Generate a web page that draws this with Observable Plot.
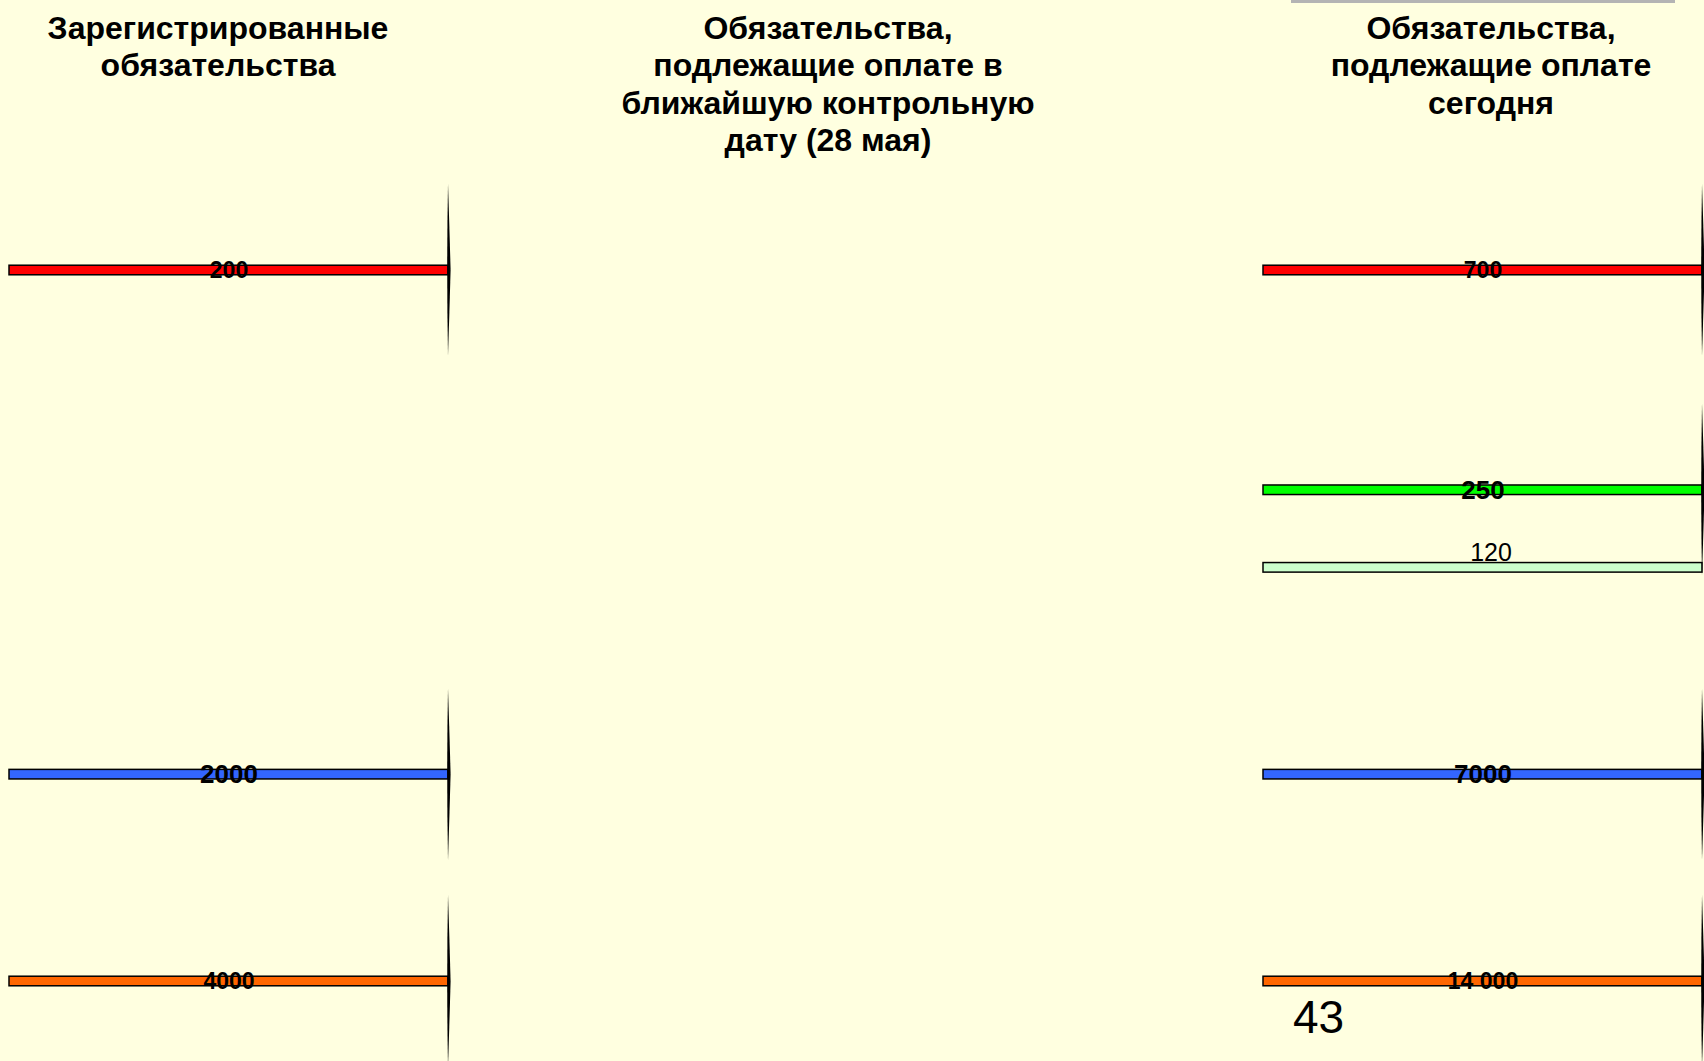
<!DOCTYPE html>
<html>
<head>
<meta charset="utf-8">
<script src="https://cdn.jsdelivr.net/npm/d3@7"></script>
<script src="https://cdn.jsdelivr.net/npm/@observablehq/plot@0.6"></script>
<style>
  html, body { margin: 0; padding: 0; background: #ffffe0; }
  #wrap { position: relative; width: 1704px; height: 1061px; overflow: hidden;
          font-family: "Liberation Sans", Arial, sans-serif; }
  #wrap svg { position: absolute; left: 0; top: 0; }
  #rule { position: absolute; left: 1291px; top: 0; width: 384px; height: 3px; background: #b4b4b4; }
  #page { position: absolute; left: 1293px; top: 994px; font-size: 46px; line-height: 1; color: #000; }
</style>
</head>
<body>
<div id="wrap"><div id="rule"></div><div id="page">43</div></div>
<script>
// ---------- data ----------
const columnKeys = ["registered", "nearest", "today"];
const columnTitles = [
  "Зарегистрированные\nобязательства",
  "Обязательства,\nподлежащие оплате в\nближайшую контрольную\nдату (28 мая)",
  "Обязательства,\nподлежащие оплате\nсегодня"
];
const rowKeys = ["красный", "зелёный", "светло-зелёный", "синий", "оранжевый"];
const rowColors = ["#ff0000", "#00ff00", "#ccffcc", "#3366ff", "#ff6600"];
const registeredValues = [200, null, null, 2000, 4000];
const nearestValues = [null, null, null, null, null];
const todayValues = [700, 250, 120, 7000, 14000];

// ---------- layout / style (not data) ----------
const rowSlot = {"красный": 0, "зелёный": 17, "светло-зелёный": 23, "синий": 39, "оранжевый": 55};
const rowFont = {"красный": 23, "зелёный": 26, "светло-зелёный": 25, "синий": 26, "оранжевый": 23};
const plainRow = "светло-зелёный";     // label above bar, regular weight, no brace
const barHalf = 0.37;                   // half bar thickness in slot units
const braceHalf = 6.65;                 // half brace height in slot units
const titleDx = [-11, -28, 8];

const valuesByColumn = [registeredValues, nearestValues, todayValues];
const bars = [];
columnKeys.forEach((c, ci) => rowKeys.forEach((r, ri) => {
  const v = valuesByColumn[ci][ri];
  if (v != null) bars.push({column: c, row: r, value: v});
}));

const fmt = v => v >= 10000 ? d3.format(",")(v).replace(/,/g, " ") : String(v);

function braces(data) {
  return (index, scales) => {
    const sx = scales.x, sy = scales.y;
    const bw = typeof sx.bandwidth === "function" ? sx.bandwidth() : sx.bandwidth;
    const g = d3.create("svg:g");
    for (const d of data) {
      const x = sx(d.column) + bw;
      const s = rowSlot[d.row];
      const cy = sy(s), top = sy(s - braceHalf), bot = sy(s + braceHalf);
      g.append("path")
        .attr("fill", "#000")
        .attr("d", `M${x},${top} Q${x + 1.4},${(top + cy) / 2} ${x + 2.6},${cy} Q${x + 1.4},${(cy + bot) / 2} ${x},${bot} Q${x - 1.6},${cy} ${x},${top} Z`);
    }
    return g.node();
  };
}

const chart = Plot.plot({
  width: 1704,
  height: 1061,
  margin: 0,
  style: {background: "transparent", fontFamily: "'Liberation Sans', Arial, sans-serif", overflow: "visible"},
  x: {type: "band", domain: columnKeys, range: [9, 1702], paddingInner: 0.3, paddingOuter: 0, axis: null},
  y: {domain: [0, 55], range: [270, 981], axis: null},
  color: {domain: rowKeys, range: rowColors},
  marks: [
    Plot.barY(bars, {
      x: "column",
      y1: d => rowSlot[d.row] - barHalf,
      y2: d => rowSlot[d.row] + barHalf,
      fill: "row",
      stroke: "#000",
      strokeWidth: 1.5
    }),
    braces(bars.filter(d => d.row !== plainRow)),
    Plot.text(bars.filter(d => d.row !== plainRow), {
      x: "column",
      y: d => rowSlot[d.row],
      text: d => fmt(d.value),
      fontSize: d => rowFont[d.row],
      fontWeight: "bold",
      fill: "#000"
    }),
    Plot.text(bars.filter(d => d.row === plainRow), {
      x: "column",
      y: d => rowSlot[d.row],
      text: d => fmt(d.value),
      fontSize: 25,
      dy: -15,
      dx: 8,
      fill: "#000"
    }),
    ...columnKeys.map((c, i) => Plot.text([c], {
      x: d => d,
      text: [columnTitles[i]],
      frameAnchor: "top",
      lineAnchor: "top",
      dy: 12,
      dx: titleDx[i],
      fontSize: 32,
      fontWeight: "bold",
      lineHeight: 1.166,
      fill: "#000"
    }))
  ]
});
document.getElementById("wrap").prepend(chart);
</script>
</body>
</html>
